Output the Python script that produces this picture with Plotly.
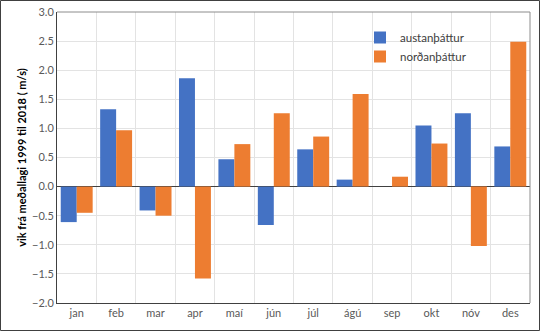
import plotly.graph_objects as go

months = ["jan", "feb", "mar", "apr", "maí", "jún", "júl", "ágú", "sep", "okt", "nóv", "des"]
austan = [-0.61, 1.33, -0.41, 1.86, 0.47, -0.66, 0.64, 0.12, 0.0, 1.05, 1.26, 0.69]
nordan = [-0.45, 0.97, -0.50, -1.58, 0.73, 1.26, 0.86, 1.59, 0.17, 0.74, -1.02, 2.49]

W, H = 540, 331
L, R, T, B = 57, 10, 12, 28
pw, ph = W - L - R, H - T - B

fig = go.Figure()
fig.add_trace(go.Bar(x=months, y=austan, name="austanþáttur",
                     marker=dict(color="#4472C4", line=dict(width=0))))
fig.add_trace(go.Bar(x=months, y=nordan, name="norðanþáttur",
                     marker=dict(color="#ED7D31", line=dict(width=0))))

fig.update_layout(
    width=W, height=H,
    margin=dict(l=L, r=R, t=T, b=B, autoexpand=False),
    paper_bgcolor="white", plot_bgcolor="white",
    font=dict(family="Lato", size=11, color="#595959"),
    barmode="group", bargap=0.19, bargroupgap=0.0,
    legend=dict(x=(360 - L) / pw, y=(303 - 23) / ph, xanchor="left", yanchor="top",
                bgcolor="rgba(0,0,0,0)", font=dict(size=11.5, color="#404040"),
                tracegroupgap=2, itemwidth=30),
    xaxis=dict(type="category", tickson="boundaries", showgrid=True, gridcolor="#E3E3E3",
               ticks="", showline=True, linecolor="#404040", linewidth=1, automargin=False,
               tickfont=dict(size=11, color="#595959")),
    yaxis=dict(range=[-2, 3], dtick=0.5, tickformat=".1f", showgrid=True, gridcolor="#E3E3E3",
               zeroline=True, zerolinecolor="#404040", zerolinewidth=1, automargin=False,
               showline=True, linecolor="#404040", linewidth=1, ticks="",
               tickfont=dict(size=11, color="#595959"),
               title=dict(text="<b>vik frá meðallagi 1999 til 2018 ( m/s)</b>",
                          font=dict(size=11, color="#000000"), standoff=3)),
    shapes=[
        dict(type="line", xref="paper", yref="paper", x0=0, x1=1, y0=1, y1=1,
             line=dict(color="#8C8C8C", width=1), layer="above"),
        dict(type="line", xref="paper", yref="paper", x0=1, x1=1, y0=0, y1=1,
             line=dict(color="#8C8C8C", width=1), layer="above"),
        dict(type="rect", xref="paper", yref="paper",
             x0=(0.5 - L) / pw, x1=(W - 0.5 - L) / pw,
             y0=-(H - 0.5 - (T + ph)) / ph, y1=(T + ph - 0.5) / ph,
             line=dict(color="#404040", width=1)),
    ],
)

fig.write_html("out.html")
